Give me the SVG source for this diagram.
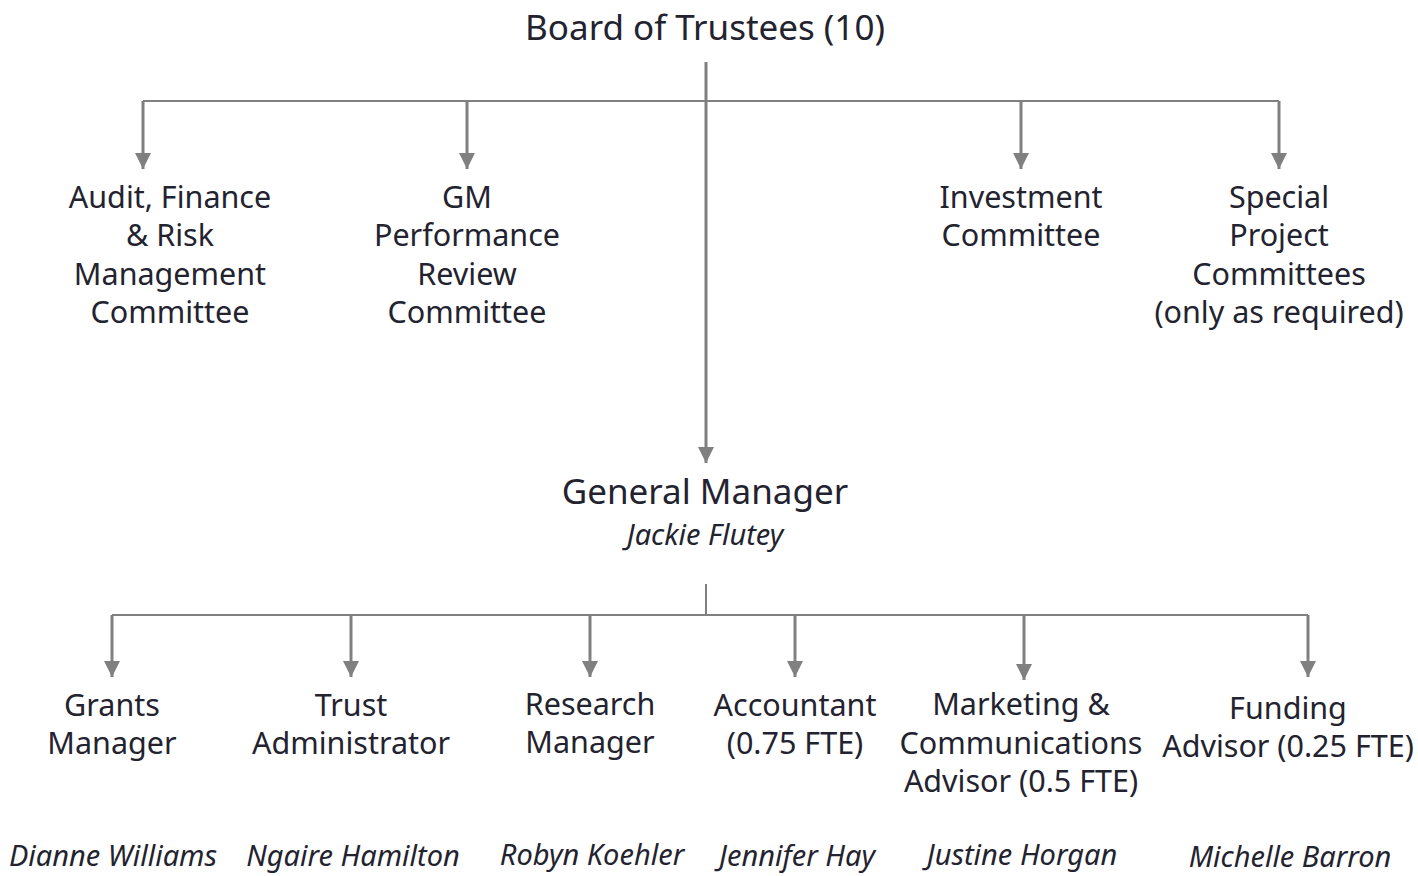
<svg xmlns="http://www.w3.org/2000/svg" width="1418" height="876" viewBox="0 0 1418 876">
<defs>
<marker id="ah" viewBox="0 0 10 10" refX="10" refY="5" markerWidth="16" markerHeight="16" markerUnits="userSpaceOnUse" orient="auto"><path d="M0,0 L10,5 L0,10 z" fill="#808080"/></marker>
<style>
.t{font-family:"Noto Sans",Lato,sans-serif;fill:#23232f;text-anchor:middle}
.h{font-size:35px}
.n{font-size:30.5px}
.i{font-size:29px;font-style:italic}
.c{stroke:#808080;stroke-width:2;fill:none}
.a{stroke:#808080;stroke-width:3;fill:none;marker-end:url(#ah)}
</style>
</defs>
<rect width="1418" height="876" fill="#fff"/>
<g id="connectors">
<line class="a" x1="706" y1="62" x2="706" y2="463"/>
<line class="c" x1="143" y1="101" x2="1279" y2="101"/>
<line class="a" x1="143" y1="101" x2="143" y2="169"/>
<line class="a" x1="467" y1="101" x2="467" y2="169"/>
<line class="a" x1="1021" y1="101" x2="1021" y2="169"/>
<line class="a" x1="1279" y1="101" x2="1279" y2="169"/>
<line class="c" x1="706" y1="584" x2="706" y2="615"/>
<line class="c" x1="112" y1="615" x2="1308" y2="615"/>
<line class="a" x1="112" y1="615" x2="112" y2="677"/>
<line class="a" x1="351" y1="615" x2="351" y2="677"/>
<line class="a" x1="590" y1="615" x2="590" y2="677"/>
<line class="a" x1="795" y1="615" x2="795" y2="677"/>
<line class="a" x1="1024" y1="615" x2="1024" y2="680"/>
<line class="a" x1="1308" y1="615" x2="1308" y2="677"/>
</g>
<g id="board"><text class="t h" x="705" y="40">Board of Trustees (10)</text></g>
<g id="audit"><text class="t n" x="170" y="208">Audit, Finance</text><text class="t n" x="170" y="246">&amp; Risk</text><text class="t n" x="170" y="285">Management</text><text class="t n" x="170" y="323">Committee</text></g>
<g id="gmreview"><text class="t n" x="467" y="208">GM</text><text class="t n" x="467" y="246">Performance</text><text class="t n" x="467" y="285">Review</text><text class="t n" x="467" y="323">Committee</text></g>
<g id="investment"><text class="t n" x="1021" y="208">Investment</text><text class="t n" x="1021" y="246">Committee</text></g>
<g id="special"><text class="t n" x="1279" y="208">Special</text><text class="t n" x="1279" y="246">Project</text><text class="t n" x="1279" y="285">Committees</text><text class="t n" x="1279" y="323">(only as required)</text></g>
<g id="gm"><text class="t h" x="705" y="504">General Manager</text><text class="t i" x="705" y="545">Jackie Flutey</text></g>
<g id="grants"><text class="t n" x="112" y="716">Grants</text><text class="t n" x="112" y="754">Manager</text><text class="t i" x="113" y="866">Dianne Williams</text></g>
<g id="trust"><text class="t n" x="351" y="716">Trust</text><text class="t n" x="351" y="754">Administrator</text><text class="t i" x="353" y="866">Ngaire Hamilton</text></g>
<g id="research"><text class="t n" x="590" y="715">Research</text><text class="t n" x="590" y="753">Manager</text><text class="t i" x="592" y="865">Robyn Koehler</text></g>
<g id="accountant"><text class="t n" x="795" y="716">Accountant</text><text class="t n" x="795" y="754">(0.75 FTE)</text><text class="t i" x="797" y="866">Jennifer Hay</text></g>
<g id="marketing"><text class="t n" x="1021" y="715">Marketing &amp;</text><text class="t n" x="1021" y="754">Communications</text><text class="t n" x="1021" y="792">Advisor (0.5 FTE)</text><text class="t i" x="1022" y="865">Justine Horgan</text></g>
<g id="funding"><text class="t n" x="1288" y="719">Funding</text><text class="t n" x="1288" y="757">Advisor (0.25 FTE)</text><text class="t i" x="1290" y="867">Michelle Barron</text></g>
</svg>
